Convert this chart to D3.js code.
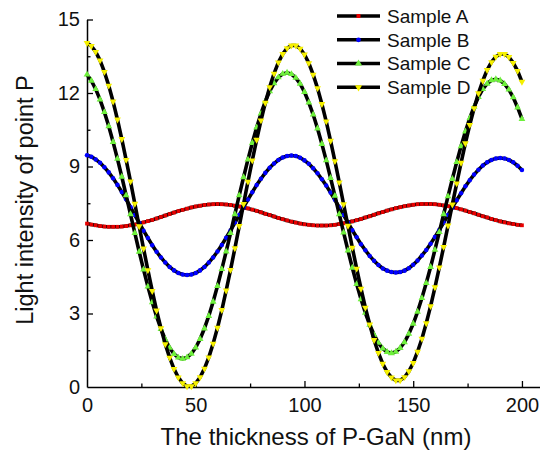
<!DOCTYPE html>
<html>
<head>
<meta charset="utf-8">
<script src="https://cdn.jsdelivr.net/npm/d3@7"></script>
<style>
  body { margin: 0; background: #fff; }
  svg text { font-family: "Liberation Sans", Arial, sans-serif; fill: #111; }
</style>
</head>
<body>
<script>
// thickness of P-GaN (nm), one reading every 2 nm
var thickness = [0,2,4,6,8,10,12,14,16,18,20,22,24,26,28,30,32,34,36,38,40,42,44,46,48,50,
  52,54,56,58,60,62,64,66,68,70,72,74,76,78,80,82,84,86,88,90,92,94,96,98,100,
  102,104,106,108,110,112,114,116,118,120,122,124,126,128,130,132,134,136,138,140,
  142,144,146,148,150,152,154,156,158,160,162,164,166,168,170,172,174,176,178,180,
  182,184,186,188,190,192,194,196,198,200];

var sampleA = [6.67,6.63,6.60,6.57,6.55,6.54,6.54,6.54,6.55,6.57,
  6.60,6.63,6.67,6.72,6.77,6.82,6.88,6.94,7.00,7.06,
  7.12,7.18,7.23,7.28,7.33,7.37,7.40,7.43,7.45,7.46,
  7.47,7.46,7.45,7.43,7.40,7.37,7.33,7.29,7.24,7.19,
  7.13,7.07,7.02,6.96,6.90,6.85,6.80,6.75,6.71,6.67,
  6.64,6.62,6.60,6.59,6.59,6.59,6.60,6.62,6.65,6.68,
  6.72,6.76,6.81,6.86,6.92,6.97,7.03,7.09,7.14,7.20,
  7.25,7.30,7.34,7.38,7.41,7.44,7.46,7.47,7.47,7.47,
  7.46,7.44,7.41,7.38,7.34,7.30,7.25,7.20,7.14,7.09,
  7.03,6.97,6.92,6.86,6.81,6.76,6.72,6.68,6.65,6.62,
  6.60];

var sampleB = [9.46,9.40,9.29,9.15,8.97,8.76,8.52,8.25,7.96,7.66,
  7.34,7.02,6.70,6.38,6.08,5.79,5.52,5.29,5.08,4.90,
  4.76,4.65,4.59,4.57,4.59,4.65,4.76,4.90,5.08,5.29,
  5.53,5.80,6.09,6.39,6.70,7.02,7.34,7.65,7.95,8.24,
  8.50,8.74,8.95,9.12,9.27,9.37,9.43,9.45,9.43,9.36,
  9.25,9.11,8.93,8.72,8.48,8.22,7.94,7.64,7.33,7.02,
  6.71,6.40,6.11,5.83,5.58,5.35,5.15,4.98,4.84,4.75,
  4.69,4.67,4.69,4.75,4.85,4.99,5.16,5.37,5.59,5.85,
  6.12,6.41,6.71,7.02,7.33,7.62,7.91,8.19,8.44,8.67,
  8.87,9.04,9.17,9.27,9.33,9.35,9.33,9.27,9.17,9.03,
  8.86];

var sampleC = [12.75,12.50,12.16,11.73,11.22,10.64,10.00,9.31,8.58,7.82,
  7.05,6.28,5.52,4.79,4.10,3.46,2.88,2.37,1.94,1.60,
  1.35,1.20,1.15,1.21,1.36,1.61,1.96,2.39,2.90,3.48,
  4.12,4.81,5.53,6.28,7.05,7.82,8.56,9.28,9.96,10.59,
  11.16,11.66,12.07,12.40,12.64,12.78,12.83,12.77,12.62,12.38,
  12.04,11.61,11.12,10.55,9.92,9.25,8.53,7.80,7.05,6.30,
  5.57,4.87,4.20,3.58,3.03,2.54,2.13,1.80,1.57,1.43,
  1.38,1.44,1.59,1.83,2.17,2.58,3.07,3.63,4.24,4.90,
  5.60,6.32,7.05,7.78,8.49,9.18,9.83,10.43,10.97,11.44,
  11.84,12.16,12.38,12.52,12.56,12.51,12.37,12.14,11.82,11.41,
  10.94];

var sampleD = [14.04,13.92,13.68,13.33,12.86,12.30,11.65,10.92,10.12,9.27,
  8.39,7.48,6.56,5.65,4.77,3.92,3.12,2.40,1.75,1.20,
  0.74,0.39,0.15,0.03,0.03,0.15,0.40,0.75,1.21,1.77,
  2.42,3.14,3.94,4.78,5.66,6.57,7.47,8.38,9.25,10.09,
  10.88,11.60,12.24,12.79,13.25,13.59,13.83,13.94,13.94,13.81,
  13.57,13.22,12.75,12.20,11.55,10.84,10.05,9.22,8.35,7.46,
  6.58,5.69,4.83,4.01,3.24,2.55,1.92,1.39,0.95,0.61,
  0.39,0.27,0.27,0.40,0.64,0.98,1.44,1.97,2.60,3.30,
  4.07,4.88,5.72,6.59,7.45,8.31,9.15,9.95,10.70,11.38,
  11.99,12.50,12.94,13.26,13.48,13.59,13.59,13.47,13.23,12.90,
  12.46];

var seriesNames = ["Sample A", "Sample B", "Sample C", "Sample D"];
var xMajor = [0, 50, 100, 150, 200];
var xMinor = [25, 75, 125, 175];
var yMajor = [0, 3, 6, 9, 12, 15];
var yMinor = [1.5, 4.5, 7.5, 10.5, 13.5];

var series = [
  {name: seriesNames[0], values: sampleA, color: "#e80000", sym: d3.symbolSquare, size: 14, rot: 0},
  {name: seriesNames[1], values: sampleB, color: "#0000ff", sym: d3.symbolCircle, size: 16, rot: 0},
  {name: seriesNames[2], values: sampleC, color: "#6ef03c", sym: d3.symbolTriangle, size: 20, rot: 0},
  {name: seriesNames[3], values: sampleD, color: "#f5f000", sym: d3.symbolTriangle, size: 20, rot: 180}
];

var W = 540, H = 452;
var svg = d3.select("body").append("svg")
  .attr("width", W).attr("height", H);

var x = d3.scaleLinear().domain([0, 208.3]).range([87, 540]);
var y = d3.scaleLinear().domain([0, 15]).range([387, 19.5]);

// axes, ticks pointing inward
var gx = svg.append("g").attr("transform", "translate(0,387)")
  .call(d3.axisBottom(x).tickValues(xMajor).tickSizeInner(-6).tickSizeOuter(0).tickPadding(10.5));
svg.append("g").attr("transform", "translate(0,387)")
  .call(d3.axisBottom(x).tickValues(xMinor).tickSizeInner(-3.5).tickSizeOuter(0).tickFormat(""))
  .select(".domain").remove();
var gy = svg.append("g").attr("transform", "translate(87,0)")
  .call(d3.axisLeft(y).tickValues(yMajor).tickSizeInner(-6).tickSizeOuter(0).tickPadding(7));
svg.append("g").attr("transform", "translate(87,0)")
  .call(d3.axisLeft(y).tickValues(yMinor).tickSizeInner(-3.5).tickSizeOuter(0).tickFormat(""))
  .select(".domain").remove();

svg.selectAll(".domain").attr("stroke", "#000").attr("stroke-width", 1.5);
svg.selectAll(".tick line").attr("stroke", "#000").attr("stroke-width", 1.3);
svg.selectAll(".tick text").attr("font-size", 20).attr("fill", "#111")
  .style("font-family", "Liberation Sans, Arial, sans-serif");
gx.selectAll(".tick").filter(function(d){ return d === 0; }).select("line").remove();
gy.selectAll(".tick").filter(function(d){ return d === 0; }).select("line").remove();

// axis titles
svg.append("text")
  .attr("x", 316).attr("y", 445)
  .attr("text-anchor", "middle")
  .attr("font-size", 24)
  .text("The thickness of P-GaN (nm)");
svg.append("text")
  .attr("transform", "translate(33,200) rotate(-90)")
  .attr("text-anchor", "middle")
  .attr("font-size", 23.5)
  .text("Light intensity of point P");

var line = d3.line()
  .x(function(d, i){ return x(thickness[i]); })
  .y(function(d){ return y(d); });

series.forEach(function(s){
  var g = svg.append("g");
  g.append("path")
    .attr("d", line(s.values))
    .attr("fill", "none")
    .attr("stroke", "#000")
    .attr("stroke-width", 3.6)
    .attr("stroke-linejoin", "round");
  var sym = d3.symbol().type(s.sym).size(s.size);
  g.selectAll("path.m").data(s.values).enter().append("path")
    .attr("class", "m")
    .attr("d", sym)
    .attr("fill", s.color)
    .attr("transform", function(d, i){
      return "translate(" + x(thickness[i]) + "," + y(d) + ") rotate(" + s.rot + ")";
    });
});

// legend
var legY = [16, 39.8, 63.5, 87.3];
var leg = svg.append("g");
series.forEach(function(s, i){
  leg.append("line")
    .attr("x1", 337).attr("x2", 380)
    .attr("y1", legY[i]).attr("y2", legY[i])
    .attr("stroke", "#000").attr("stroke-width", 3.6);
  leg.append("path")
    .attr("d", d3.symbol().type(s.sym).size(s.size + 2))
    .attr("fill", s.color)
    .attr("transform", "translate(358.5," + legY[i] + ") rotate(" + s.rot + ")");
  leg.append("text")
    .attr("x", 387).attr("y", legY[i])
    .attr("dy", "0.36em")
    .attr("font-size", 19)
    .text(s.name);
});
</script>
</body>
</html>
